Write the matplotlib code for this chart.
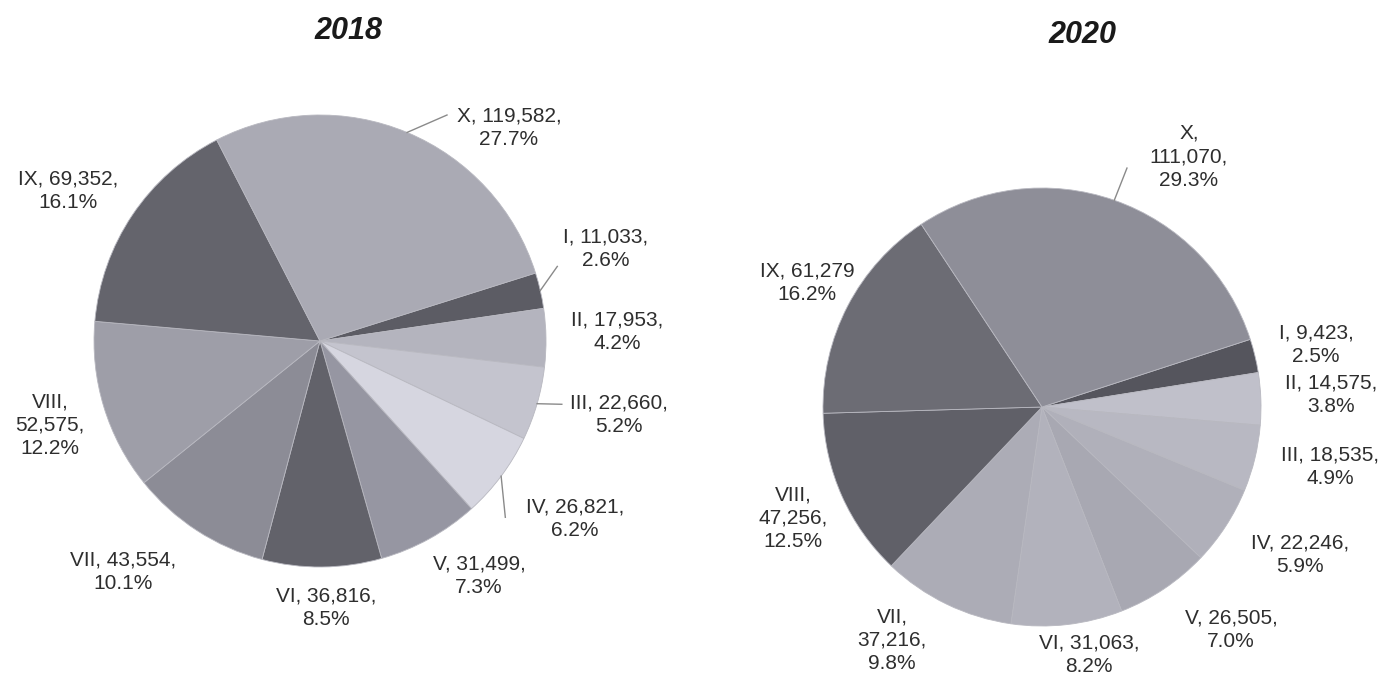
import numpy as np
import matplotlib
matplotlib.use("Agg")
import matplotlib.pyplot as plt

categories = ["I", "II", "III", "IV", "V", "VI", "VII", "VIII", "IX", "X"]
values_2018 = [11033, 17953, 22660, 26821, 31499, 36816, 43554, 52575, 69352, 119582]
values_2020 = [9423, 14575, 18535, 22246, 26505, 31063, 37216, 47256, 61279, 111070]

colors_2018 = ["#5c5c64", "#b4b4be", "#c4c4ce", "#d6d6e0", "#9696a2",
               "#62626a", "#8c8c96", "#9e9ea8", "#64646c", "#aaaab4"]
colors_2020 = ["#55555d", "#c0c0ca", "#b8b8c2", "#b0b0ba", "#a8a8b2",
               "#b2b2bc", "#acacb6", "#606068", "#6c6c74", "#8e8e98"]

# label text positions (in pie radius units)
pos_2018 = [(1.265, 0.41), (1.314, 0.04), (1.323, -0.327), (1.128, -0.788), (0.704, -1.04),
            (0.027, -1.181), (-0.872, -1.022), (-1.195, -0.372), (-1.115, 0.664), (0.836, 0.942)]
pos_2020 = [(1.251, 0.283), (1.32, 0.055), (1.315, -0.274), (1.178, -0.676), (0.863, -1.018),
            (0.215, -1.132), (-0.685, -1.064), (-1.137, -0.507), (-1.073, 0.566), (0.671, 1.142)]

# leaders: category index -> end point
lead_2018 = {9: (0.562, 1.0), 0: (1.05, 0.33), 2: (1.07, -0.28), 3: (0.82, -0.78)}
lead_2020 = {9: (0.388, 1.091)}

stacked_2018 = {"VIII"}
stacked_2020 = {"X", "VII", "VIII"}

TEXT = "#2e2e2e"
plt.rcParams["font.family"] = ["Liberation Sans", "DejaVu Sans"]

fig = plt.figure(figsize=(14, 6.78), dpi=100)
W, H = 1400, 678


def draw(cx, cy, R, year, values, colors, pos, leads, stacked, start, title_xy):
    ax = fig.add_axes([(cx - R) / W, (H - cy - R) / H, 2 * R / W, 2 * R / H])
    wedges, _ = ax.pie(values, colors=colors, startangle=start, counterclock=False,
                       radius=1.0, wedgeprops=dict(edgecolor="#b8b8c0", linewidth=0.6))
    ax.set_xlim(-1, 1)
    ax.set_ylim(-1, 1)
    ax.axis("off")
    total = sum(values)
    for i, (cat, v) in enumerate(zip(categories, values)):
        pct = 100 * v / total
        if cat in stacked:
            txt = f"{cat},\n{v:,},\n{pct:.1f}%"
        elif year == "2020" and cat == "IX":
            txt = f"{cat}, {v:,}\n{pct:.1f}%"
        else:
            txt = f"{cat}, {v:,},\n{pct:.1f}%"
        ax.text(pos[i][0], pos[i][1], txt, ha="center", va="center", fontsize=15,
                color=TEXT, linespacing=1.3)
        if i in leads:
            w = wedges[i]
            mid = np.deg2rad((w.theta1 + w.theta2) / 2)
            ex, ey = leads[i]
            ax.plot([np.cos(mid), ex], [np.sin(mid), ey], color="#8a8a8a", lw=1,
                    clip_on=False)
    fig.text(title_xy[0] / W, 1 - title_xy[1] / H, year, ha="center", va="center",
             fontsize=22, fontweight="bold", fontstyle="italic", color="#1a1a1a")


draw(320, 341, 226, "2018", values_2018, colors_2018, pos_2018, lead_2018,
     stacked_2018, 17.5, (348, 31))
draw(1042, 407, 219, "2020", values_2020, colors_2020, pos_2020, lead_2020,
     stacked_2020, 18, (1082, 35))

fig.savefig("out.png", dpi=100)
